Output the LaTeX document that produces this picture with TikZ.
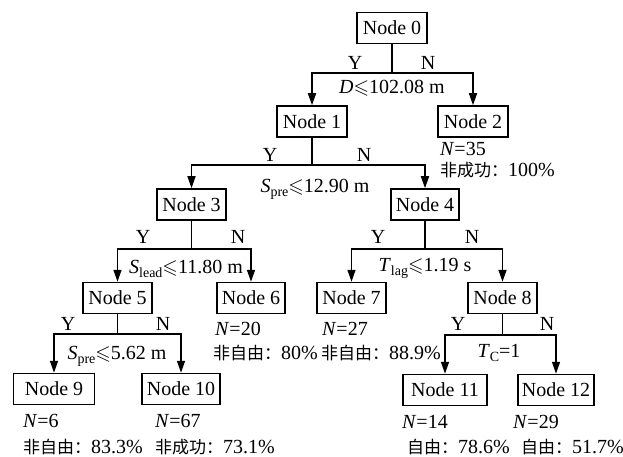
\documentclass[tikz,border=0pt]{standalone}
\usepackage{amssymb}
\usepackage{fontspec}
\setmainfont{Liberation Serif}
\newfontfamily\cjk{Noto Sans CJK SC}
\usetikzlibrary{arrows.meta}
\newcommand\zh[1]{{\cjk\fontsize{17}{17}\selectfont #1}}
\newcommand\myleq{\ensuremath{\leqslant}}
\newcommand\sbs[1]{\raisebox{-4pt}{\fontsize{14}{14}\selectfont #1}}
\begin{document}
\begin{tikzpicture}[x=1pt,y=-1pt, font=\fontsize{20}{22}\selectfont,
  box/.style={draw, line width=1.5pt, minimum height=31pt, inner sep=0pt},
  link/.style={line width=1.5pt},
  arr/.style={link, -{Triangle[length=12pt,width=8pt]}},
  lab/.style={anchor=base, inner sep=0pt},
  note/.style={anchor=base west, inner sep=0pt}]
\useasboundingbox (0,0) rectangle (623,457);
% nodes
\node[box, minimum width=70pt] (n0) at (392,28) {Node 0};
\node[box, minimum width=70pt] (n1) at (312,121.5) {Node 1};
\node[box, minimum width=70pt] (n2) at (473,121.5) {Node 2};
\node[box, minimum width=69pt] (n3) at (191.5,204.5) {Node 3};
\node[box, minimum width=68pt] (n4) at (425,204.5) {Node 4};
\node[box, minimum width=69pt] (n5) at (117.5,298) {Node 5};
\node[box, minimum width=68pt] (n6) at (251,298) {Node 6};
\node[box, minimum width=69pt] (n7) at (351.5,298) {Node 7};
\node[box, minimum width=69pt] (n8) at (502.5,298) {Node 8};
\node[box, minimum width=81pt] (n9) at (54,389) {Node 9};
\node[box, minimum width=78pt] (n10) at (181,389) {Node 10};
\node[box, minimum width=84pt] (n11) at (445,390) {Node 11};
\node[box, minimum width=76pt] (n12) at (556,390) {Node 12};
% junctions
\coordinate (j0) at (392,73);
\coordinate (j1) at (312,165);
\coordinate (j3) at (191.5,249);
\coordinate (j4) at (425,249);
\coordinate (j5) at (117.5,334);
\coordinate (j8) at (502.5,335);
% connectors
\draw[link] (n0) -- (j0);
\draw[arr] (j0) -| (n1);
\draw[arr] (j0) -| (n2);
\draw[link] (n1) -- (j1);
\draw[arr] (j1) -| (n3);
\draw[arr] (j1) -| (n4);
\draw[link] (n3) -- (j3);
\draw[arr] (j3) -| (n5);
\draw[arr] (j3) -| (n6);
\draw[link] (n4) -- (j4);
\draw[arr] (j4) -| (n7);
\draw[arr] (j4) -| (n8);
\draw[link] (n5) -- (j5);
\draw[arr] (j5) -| (n9);
\draw[arr] (j5) -| (n10);
\draw[link] (n8) -- (j8);
\draw[arr] (j8) -| (n11);
\draw[arr] (j8) -| (n12);
% Y/N labels
\node[lab] at (355,70) {Y};  \node[lab] at (428,70) {N};
\node[lab] at (270,162) {Y}; \node[lab] at (364,162) {N};
\node[lab] at (143,243) {Y}; \node[lab] at (238,243) {N};
\node[lab] at (378,243) {Y}; \node[lab] at (472,243) {N};
\node[lab] at (68,330) {Y};  \node[lab] at (163,330) {N};
\node[lab] at (458,330) {Y}; \node[lab] at (547,330) {N};
% split conditions
\node[lab] at (392,94) {\textit{D}\myleq102.08 m};
\node[lab] at (315,193) {\textit{S}\sbs{pre}\myleq12.90 m};
\node[lab] at (186,273) {\textit{S}\sbs{lead}\myleq11.80 m};
\node[lab] at (425,271) {\textit{T}\sbs{lag}\myleq1.19 s};
\node[lab] at (117,359) {\textit{S}\sbs{pre}\myleq5.62 m};
\node[lab] at (499,357) {\textit{T}\sbs{C}=1};
% leaf annotations
\node[note] at (440,156) {\textit{N}=35};
\node[note] at (440,176) {\zh{非成功：}100\%};
\node[note] at (215,335) {\textit{N}=20};
\node[note] at (213,359) {\zh{非自由：}80\%};
\node[note] at (322,335) {\textit{N}=27};
\node[note] at (321,359) {\zh{非自由：}88.9\%};
\node[note] at (23,427) {\textit{N}=6};
\node[note] at (23,453) {\zh{非自由：}83.3\%};
\node[note] at (155,427) {\textit{N}=67};
\node[note] at (155,453) {\zh{非成功：}73.1\%};
\node[note] at (402,428) {\textit{N}=14};
\node[note] at (407,453) {\zh{自由：}78.6\%};
\node[note] at (513,428) {\textit{N}=29};
\node[note] at (521,453) {\zh{自由：}51.7\%};
\end{tikzpicture}
\end{document}
